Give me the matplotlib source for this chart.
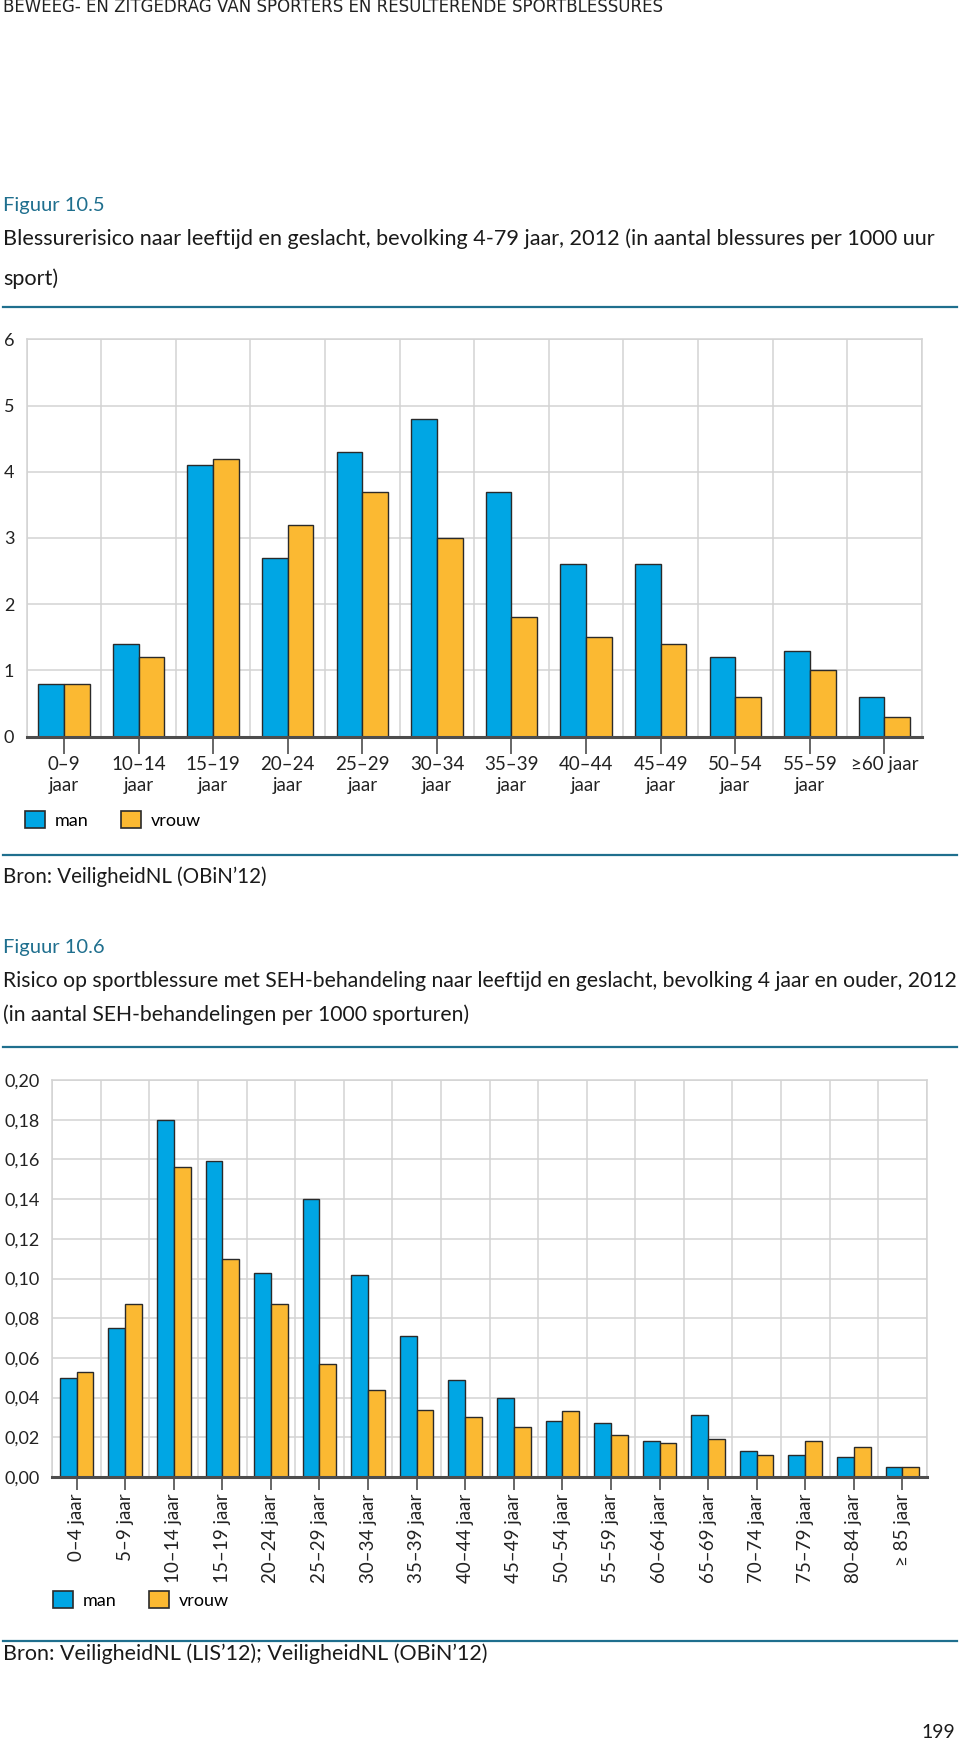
import matplotlib
matplotlib.use("Agg")
import matplotlib.pyplot as plt
import numpy as np
from matplotlib.lines import Line2D
from matplotlib.patches import Patch

plt.rcParams['font.family'] = ['Lato', 'DejaVu Sans']

# figuur 10.5
groepen_a = ["0–9\njaar", "10–14\njaar", "15–19\njaar", "20–24\njaar", "25–29\njaar",
             "30–34\njaar", "35–39\njaar", "40–44\njaar", "45–49\njaar", "50–54\njaar",
             "55–59\njaar", "≥60 jaar"]
man_a = [0.8, 1.4, 4.1, 2.7, 4.3, 4.8, 3.7, 2.6, 2.6, 1.2, 1.3, 0.6]
vrouw_a = [0.8, 1.2, 4.2, 3.2, 3.7, 3.0, 1.8, 1.5, 1.4, 0.6, 1.0, 0.3]
yticks_a = [0, 1, 2, 3, 4, 5, 6]

# figuur 10.6
groepen_b = ["0–4 jaar", "5–9 jaar", "10–14 jaar", "15–19 jaar", "20–24 jaar", "25–29 jaar",
             "30–34 jaar", "35–39 jaar", "40–44 jaar", "45–49 jaar", "50–54 jaar", "55–59 jaar",
             "60–64 jaar", "65–69 jaar", "70–74 jaar", "75–79 jaar", "80–84 jaar", "≥ 85 jaar"]
man_b = [0.050, 0.075, 0.180, 0.159, 0.103, 0.140, 0.102, 0.071, 0.049, 0.040, 0.028, 0.027,
         0.018, 0.031, 0.013, 0.011, 0.010, 0.005]
vrouw_b = [0.053, 0.087, 0.156, 0.110, 0.087, 0.057, 0.044, 0.034, 0.030, 0.025, 0.033, 0.021,
           0.017, 0.019, 0.011, 0.018, 0.015, 0.005]
yticks_b = [0.00, 0.02, 0.04, 0.06, 0.08, 0.10, 0.12, 0.14, 0.16, 0.18, 0.20]
ylabels_b = ["0,00", "0,02", "0,04", "0,06", "0,08", "0,10", "0,12", "0,14", "0,16", "0,18", "0,20"]

BLAUW = "#00a6e4"
ORANJE = "#fbb932"
RAND = "#2a2a2a"
GRIJS = "#d3d3d3"
AS = "#4d4d4d"
TEAL = "#1f6f8e"

W, H = 960, 1745
fig = plt.figure(figsize=(W / 100, H / 100), dpi=100)


def fx(px):
    return px / W


def fy(py):
    return 1 - py / H


def staven(ax, groepen, man, vrouw, ylim):
    n = len(groepen)
    x = np.arange(n)
    b = 0.345
    ax.bar(x - b / 2, man, b, color=BLAUW, edgecolor=RAND, linewidth=1.0, zorder=3)
    ax.bar(x + b / 2, vrouw, b, color=ORANJE, edgecolor=RAND, linewidth=1.0, zorder=3)
    ax.set_xlim(-0.5, n - 0.5)
    ax.set_ylim(*ylim)
    ax.set_xticks(x)
    ax.set_xticks(np.arange(n + 1) - 0.5, minor=True)
    ax.grid(which="minor", axis="x", color=GRIJS, lw=1.1, zorder=0)
    ax.grid(which="major", axis="y", color=GRIJS, lw=1.1, zorder=0)
    ax.set_axisbelow(True)
    for s in ["left", "top", "right"]:
        ax.spines[s].set_color(GRIJS)
        ax.spines[s].set_linewidth(1.1)
    ax.spines["bottom"].set_color(AS)
    ax.spines["bottom"].set_linewidth(2.2)
    ax.spines["bottom"].set_zorder(4)
    ax.tick_params(axis="x", which="minor", length=0)
    ax.tick_params(axis="y", length=0, pad=9, labelsize=13, labelcolor="#222222")


def legenda(x, y):
    h = [Patch(facecolor=BLAUW, edgecolor=RAND, lw=1.2), Patch(facecolor=ORANJE, edgecolor=RAND, lw=1.2)]
    fig.legend(h, ["man", "vrouw"], loc="center left", bbox_to_anchor=(fx(x), fy(y)),
               ncol=2, frameon=False, fontsize=13, handlelength=1.1, handleheight=1.1,
               handletextpad=0.55, columnspacing=1.8, borderpad=0, borderaxespad=0)


def lijn(y):
    fig.add_artist(Line2D([fx(3), fx(957)], [fy(y), fy(y)], color=TEAL, lw=1.6))


def tekst(x, y, s, **kw):
    fig.text(fx(x), fy(y), s, va="center", ha="left", **kw)


# kop
tekst(3, 7, "BEWEEG- EN ZITGEDRAG VAN SPORTERS EN RESULTERENDE SPORTBLESSURES",
      fontsize=12, color="#222222", family=["DejaVu Sans"])

# figuur 10.5
tekst(3, 206, "Figuur 10.5", fontsize=14.5, color=TEAL)
tekst(3, 239, "Blessurerisico naar leeftijd en geslacht, bevolking 4-79 jaar, 2012 (in aantal blessures per 1000 uur",
      fontsize=15.6, color="#1a1a1a")
tekst(3, 279, "sport)", fontsize=15.6, color="#1a1a1a")
lijn(307)

ax1 = fig.add_axes([fx(26.7), fy(736.7), fx(921.7) - fx(26.7), fy(339.3) - fy(736.7)])
staven(ax1, groepen_a, man_a, vrouw_a, (0, 6))
ax1.set_yticks(yticks_a)
ax1.set_xticklabels(groepen_a, fontsize=13.5, linespacing=1.25, color="#222222", va="top")
ax1.tick_params(axis="x", which="major", length=12, width=1.2, color=AS, pad=2)
legenda(25, 820)
lijn(855)
tekst(3, 877, "Bron: VeiligheidNL (OBiN’12)", fontsize=14.8, color="#1a1a1a")

# figuur 10.6
tekst(3, 948, "Figuur 10.6", fontsize=14.5, color=TEAL)
tekst(3, 981, "Risico op sportblessure met SEH-behandeling naar leeftijd en geslacht, bevolking 4 jaar en ouder, 2012",
      fontsize=15.2, color="#1a1a1a")
tekst(3, 1015, "(in aantal SEH-behandelingen per 1000 sporturen)", fontsize=15.2, color="#1a1a1a")
lijn(1047)

ax2 = fig.add_axes([fx(52.3), fy(1477), fx(926.7) - fx(52.3), fy(1080) - fy(1477)])
staven(ax2, groepen_b, man_b, vrouw_b, (0, 0.20))
ax2.set_yticks(yticks_b)
ax2.set_yticklabels(ylabels_b)
ax2.set_xticklabels(groepen_b, rotation=90, fontsize=13.5, color="#222222", va="top", ha="center")
ax2.tick_params(axis="x", which="major", length=9, width=1.2, color=AS, pad=3)
legenda(53, 1600)
lijn(1641)
tekst(3, 1654, "Bron: VeiligheidNL (LIS’12); VeiligheidNL (OBiN’12)", fontsize=15.5, color="#1a1a1a")

fig.text(fx(955), fy(1732), "199", ha="right", va="center", fontsize=14, color="#1a1a1a")

fig.savefig("out.png", dpi=100)
